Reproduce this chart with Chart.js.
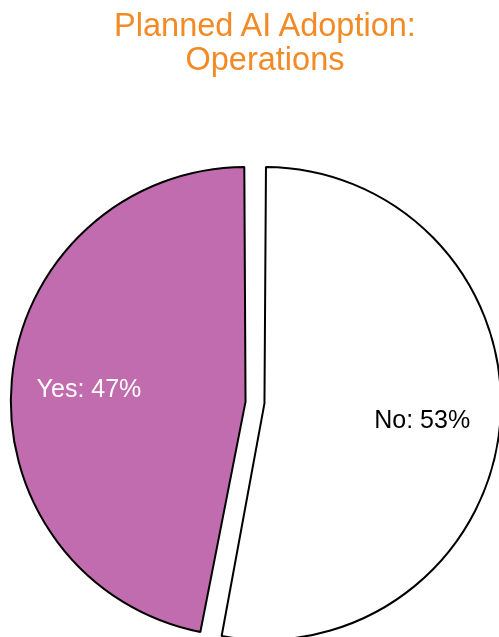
<!DOCTYPE html>
<html>
<head>
<meta charset="utf-8">
<title>Planned AI Adoption: Operations</title>
<script src="https://cdn.jsdelivr.net/npm/chart.js@4"></script>
<style>
  html, body { margin: 0; padding: 0; background: #ffffff; overflow: hidden; width: 499px; height: 637px; position: relative; }
  #wrap { position: absolute; left: 0; top: 0; width: 499px; height: 805px; }
  #heading {
    position: absolute; left: 30px; top: 8px; width: 470px; margin: 0;
    font-family: "Liberation Sans", Arial, Helvetica, sans-serif;
    font-size: 32.5px; font-weight: normal; line-height: 34px;
    text-align: center; color: #f28a26; z-index: 2;
  }
</style>
</head>
<body>
<div id="wrap"><canvas id="chart" width="499" height="805"></canvas></div>
<h1 id="heading"></h1>
<script>
// Survey answers, share of respondents (%)
const categories = ['No', 'Yes'];
const shares = [53, 47];
const sliceColors = ['#ffffff', '#c16cae'];
const labelColors = ['#000000', '#ffffff'];
const titleLines = ['Planned AI Adoption:', 'Operations'];

const FONT = '"Liberation Sans", Arial, Helvetica, sans-serif';

// Two-line heading above the pie
const heading = document.getElementById('heading');
titleLines.forEach((line, i) => {
  if (i > 0) heading.appendChild(document.createElement('br'));
  heading.appendChild(document.createTextNode(line));
});

// Writes "Category: N%" inside each exploded slice
const sliceLabels = {
  id: 'sliceLabels',
  afterDatasetsDraw(chart) {
    const ctx = chart.ctx;
    const meta = chart.getDatasetMeta(0);
    ctx.save();
    ctx.font = '25px ' + FONT;
    ctx.textAlign = 'center';
    ctx.textBaseline = 'middle';
    meta.data.forEach((arc, i) => {
      const p = arc.getProps(['x', 'y', 'startAngle', 'endAngle', 'outerRadius', 'circumference']);
      const mid = (p.startAngle + p.endAngle) / 2;
      const shift = (arc.options.offset || 0) / 4;
      const fix = 1 - Math.sin(Math.min(Math.PI, p.circumference || 0));
      const drawnRadius = p.outerRadius + shift * fix;
      const dist = shift + drawnRadius * 0.67;
      ctx.fillStyle = labelColors[i];
      ctx.fillText(categories[i] + ': ' + shares[i] + '%',
        p.x + Math.cos(mid) * dist,
        p.y + Math.sin(mid) * dist + 3);
    });
    ctx.restore();
  }
};

new Chart(document.getElementById('chart'), {
  type: 'pie',
  data: {
    labels: categories,
    datasets: [{
      data: shares,
      backgroundColor: sliceColors,
      borderColor: '#000000',
      borderWidth: 2,
      offset: 38,
      clip: false
    }]
  },
  options: {
    responsive: false,
    animation: false,
    radius: 227,
    layout: { padding: { left: 11, right: 0, top: 0, bottom: 0 } },
    plugins: {
      legend: { display: false },
      tooltip: { enabled: false },
      title: { display: false }
    }
  },
  plugins: [sliceLabels]
});
</script>
</body>
</html>
